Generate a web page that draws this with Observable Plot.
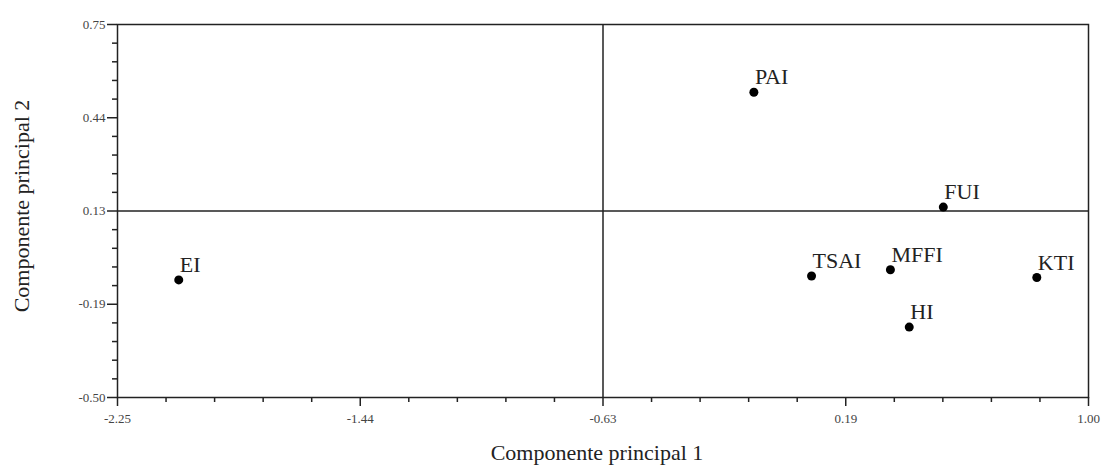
<!DOCTYPE html>
<html>
<head>
<meta charset="utf-8">
<script src="https://cdn.jsdelivr.net/npm/d3@7"></script>
<script src="https://cdn.jsdelivr.net/npm/@observablehq/plot@0.6"></script>
<style>
  html, body { margin: 0; padding: 0; background: white; }
  #chart { width: 1102px; height: 467px; }
</style>
</head>
<body>
<div id="chart"></div>
<script>
// Data
const names = ["EI", "PAI", "FUI", "TSAI", "MFFI", "KTI", "HI"];
const pc1 = [-2.045, -0.120, 0.514, 0.073, 0.337, 0.827, 0.400];
const pc2 = [-0.106, 0.523, 0.138, -0.093, -0.072, -0.098, -0.264];

const xTicks = [-2.25, -1.4375, -0.625, 0.1875, 1.0];
const xTickLabels = ["-2.25", "-1.44", "-0.63", "0.19", "1.00"];
const yTicks = [-0.5, -0.1875, 0.125, 0.4375, 0.75];
const yTickLabels = ["-0.50", "-0.19", "0.13", "0.44", "0.75"];

const xCross = [-0.625];
const yCross = [0.125];

const xTitle = ["Componente principal 1"];
const yTitle = ["Componente principal 2"];

// minor ticks: 5 subdivisions between majors
function minors(ticks) {
  const out = [];
  for (let k = 0; k < ticks.length - 1; k++) {
    const step = (ticks[k + 1] - ticks[k]) / 5;
    for (let j = 1; j < 5; j++) out.push(ticks[k] + j * step);
  }
  return out;
}
const xMinor = minors(xTicks);
const yMinor = minors(yTicks);

const idx = names.map((_, i) => i);
const ink = "#222";

const chart = Plot.plot({
  width: 1102,
  height: 467,
  marginLeft: 117,
  marginRight: 14,
  marginTop: 24,
  marginBottom: 70,
  x: { domain: [-2.25, 1.0] },
  y: { domain: [-0.5, 0.75] },
  style: { fontFamily: "'Liberation Serif', 'Times New Roman', serif", background: "white", color: ink },
  marks: [
    Plot.axisX({ ticks: xMinor, tickSize: 5, tickFormat: () => "", label: null, stroke: ink, strokeWidth: 1.5 }),
    Plot.axisY({ ticks: yMinor, tickSize: 5, tickFormat: () => "", label: null, stroke: ink, strokeWidth: 1.5 }),
    Plot.axisX({ ticks: xTicks, tickSize: 9, tickPadding: 7, fontSize: 13, fill: "#444",
      tickFormat: d => xTickLabels[xTicks.indexOf(d)], label: null, stroke: ink, strokeWidth: 1.5 }),
    Plot.axisY({ ticks: yTicks, tickSize: 10, tickPadding: 2, fontSize: 13, fill: "#444",
      tickFormat: d => yTickLabels[yTicks.indexOf(d)], label: null, stroke: ink, strokeWidth: 1.5 }),
    Plot.frame({ stroke: ink, strokeWidth: 1.5 }),
    Plot.ruleX(xCross, { stroke: ink, strokeWidth: 1.5 }),
    Plot.ruleY(yCross, { stroke: ink, strokeWidth: 1.5 }),
    Plot.dot(idx, { x: i => pc1[i], y: i => pc2[i], r: 4.5, fill: "black", stroke: null }),
    Plot.text(idx, { x: i => pc1[i], y: i => pc2[i], text: i => names[i],
      textAnchor: "start", lineAnchor: "bottom", dx: 1, dy: -8, fontSize: 22, fill: ink }),
    Plot.text(xTitle, { frameAnchor: "bottom", text: d => d, dx: -6, dy: 62, fontSize: 22,
      lineAnchor: "bottom", fill: ink }),
    Plot.text(yTitle, { frameAnchor: "left", text: d => d, rotate: -90, dx: -96, dy: -5, fontSize: 22,
      lineAnchor: "middle", textAnchor: "middle", fill: ink })
  ]
});
document.getElementById("chart").appendChild(chart);
</script>
</body>
</html>
